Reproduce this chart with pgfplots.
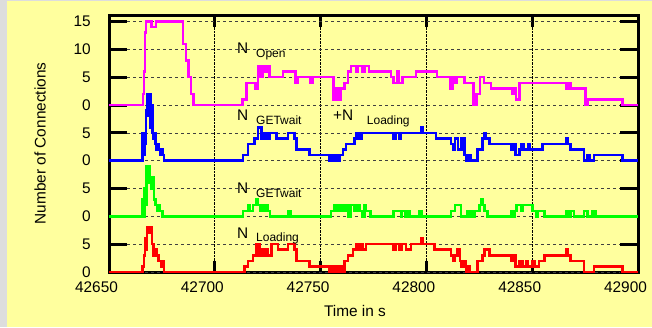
\documentclass[border=0pt]{standalone}
\usepackage{pgfplots}
\usepackage{pgfplotstable}
\pgfplotsset{compat=1.18}
\usepackage{fontspec}
\setmainfont{Liberation Sans}
\definecolor{bgyellow}{RGB}{255,255,158}
\definecolor{edgegrey}{RGB}{221,221,221}
\definecolor{cmag}{RGB}{255,0,255}
\definecolor{cblue}{RGB}{0,0,255}
\definecolor{cgreen}{RGB}{0,255,0}
\definecolor{cred}{RGB}{255,0,0}

\pgfplotstableread{
t v
42650 0
42666.0 2
42666.5 6
42667.0 13
42667.5 15
42670.0 14
42672.2 15
42685.0 11
42686.4 8
42687.5 5
42688.8 2
42690.0 0
42713.0 1
42715.0 4
42719.2 3
42720.4 7
42721.7 5
42722.8 7
42724.0 6
42724.8 7
42725.9 5
42732.2 6
42738.2 4
42739.0 5
42745.3 4
42746.1 5
42756.1 1
42757.4 3
42758.6 1
42759.7 3
42761.3 4
42762.9 6
42764.4 7
42766.8 6
42767.6 7
42769.9 6
42770.7 7
42772.8 6
42783.3 5
42784.5 4
42786.0 6
42787.0 4
42788.8 5
42795.1 6
42805.0 5
42811.3 3
42812.4 5
42813.2 4
42814.5 5
42817.9 4
42822.3 0
42823.6 2
42825.3 5
42827.3 4
42830.5 3
42840.7 2
42841.5 3
42842.3 1
42843.9 4
42865.9 3
42867.0 4
42868.0 3
42875.3 0
42876.1 1
42892.6 0
42900 0
}\tblopen

\pgfplotstableread{
t v
42650 0
42665.8 5
42666.3 1
42666.7 5
42667.2 3
42667.6 9
42668.0 12
42668.6 8
42669.0 12
42669.5 6
42670.0 10
42670.5 5
42671.0 4
42671.5 5
42672.0 3
42672.5 2
42673.0 3
42673.5 2
42674.0 1
42674.5 2
42675.2 1
42676.0 0
42713.3 1
42715.7 3
42718.8 4
42720.4 6
42722.0 4
42722.8 5
42723.6 4
42724.3 5
42725.2 4
42726.0 5
42729.1 4
42734.6 5
42737.7 4
42738.5 2
42744.8 1
42754.2 0
42755.0 1
42756.0 0
42757.0 1
42758.0 0
42759.0 1
42760.5 2
42762.1 3
42766.0 4
42767.0 5
42768.4 4
42769.3 5
42784.1 4
42785.5 5
42787.0 4
42788.0 5
42797.5 6
42798.2 5
42804.6 4
42811.6 3
42812.5 2
42813.5 4
42815.0 2
42816.5 4
42817.9 1
42819.0 0
42820.0 1
42821.0 0
42824.2 2
42826.6 4
42827.3 5
42828.1 4
42829.7 3
42839.9 2
42841.0 3
42842.0 1
42843.9 2
42845.0 3
42846.0 2
42848.0 3
42849.0 2
42854.9 3
42865.9 4
42867.0 3
42868.0 2
42874.5 0
42876.0 1
42877.0 0
42879.3 1
42892.6 0
42900 0
}\tblwaitA

\pgfplotstableread{
t v
42650 0
42665.8 3
42666.3 0
42666.8 5
42667.3 2
42667.7 9
42668.2 6
42668.7 9
42669.2 7
42670.0 5
42670.7 7
42671.3 3
42672.0 2
42673.0 1
42673.5 2
42674.2 1
42675.3 0
42713.3 1
42715.7 2
42716.5 1
42718.0 2
42719.5 3
42720.5 2
42721.3 1
42722.2 2
42723.4 1
42724.5 2
42725.2 1
42726.2 0
42734.5 1
42735.7 0
42755.0 1
42756.3 2
42757.5 1
42758.9 2
42760.0 1
42760.6 2
42761.6 1
42762.4 2
42763.3 0
42764.4 2
42766.0 1
42767.3 2
42768.4 1
42769.6 0
42770.7 2
42771.5 1
42773.5 0
42784.5 1
42788.0 0
42788.5 1
42790.0 0
42790.6 1
42792.0 0
42796.7 1
42797.8 0
42811.6 1
42813.5 2
42816.4 0
42819.5 1
42820.5 0
42821.3 1
42822.5 0
42823.0 1
42825.0 2
42825.8 3
42826.8 2
42827.4 1
42828.9 0
42839.9 1
42840.8 0
42841.6 1
42842.5 2
42844.7 1
42845.5 2
42850.2 1
42851.8 0
42852.6 1
42855.7 0
42865.9 1
42866.7 0
42868.2 1
42869.8 0
42874.5 1
42876.1 0
42878.5 1
42880.0 0
42900 0
}\tblwaitB

\pgfplotstableread{
t v
42650 0
42665.8 1
42666.5 3
42667.0 6
42667.5 4
42668.0 8
42669.0 7
42669.7 8
42670.3 5
42671.0 3
42672.0 4
42672.5 3
42673.5 2
42674.5 1
42675.5 2
42676.0 0
42714.1 1
42715.7 2
42718.1 3
42719.6 5
42721.2 3
42722.0 4
42723.0 3
42724.0 4
42725.0 3
42726.7 5
42729.9 4
42734.6 5
42737.7 4
42738.5 2
42744.8 1
42754.2 0
42755.0 1
42756.0 0
42757.0 1
42758.0 0
42759.5 1
42760.3 0
42761.3 2
42762.9 3
42765.2 4
42766.8 5
42768.0 4
42769.0 5
42769.9 4
42771.5 5
42784.1 4
42785.5 5
42787.2 4
42788.5 5
42790.4 4
42792.7 5
42797.5 6
42798.2 5
42803.8 4
42811.6 3
42812.5 2
42813.5 3
42814.8 4
42815.8 2
42816.5 1
42817.5 2
42818.7 0
42819.5 1
42820.5 0
42824.2 2
42826.6 3
42827.4 4
42829.7 3
42839.9 2
42841.0 3
42842.0 1
42843.9 2
42845.4 1
42847.0 2
42848.0 1
42850.0 2
42851.0 1
42853.3 2
42855.7 3
42865.9 4
42866.7 3
42868.0 2
42874.5 0
42879.3 1
42892.6 0
42900 0
}\tblload

\begin{document}
\begin{tikzpicture}
\fill[bgyellow] (0pt,0pt) rectangle (652pt,327pt);
\fill[edgegrey] (0pt,0pt) rectangle (7pt,327pt);
\fill[edgegrey] (0pt,326pt) rectangle (652pt,327pt);
\begin{axis}[
  at={(109pt,55pt)}, anchor=south west,
  scale only axis, width=529pt, height=256pt,
  xmin=42650, xmax=42900, ymin=0, ymax=46,
  clip=false,
  scaled x ticks=false, scaled y ticks=false,
  axis line style={line width=3pt, black},
  tick align=inside,
  tick style={line width=3pt, black},
  major tick length=11pt,
  xtick={42650,42700,42750,42800,42850,42900},
  xticklabels={42650,42700,42750,42800,42850,42900},
  xmajorgrids=true,
  x grid style={densely dotted, black, line width=0.8pt},
  xticklabel style={font=\fontsize{15.4}{16}\selectfont, inner sep=0pt, anchor=north, yshift=-10pt, xshift=-12.5pt},
  ytick=\empty,
  extra y ticks={0,5,10,15,20,25,30,35,40,45},
  extra y tick labels={0,5,0,5,0,5,0,5,10,15},
  extra y tick style={major tick length=18pt, ymajorgrids=true,
     major grid style={dashed, black!75, line width=0.7pt}},
  yticklabel style={font=\fontsize{15.4}{16}\selectfont, inner sep=0pt, anchor=east, xshift=-18pt},
  every axis plot/.append style={const plot, line width=2.5pt},
]
\addplot[cmag] table[x index=0, y expr=\thisrowno{1}+30] {\tblopen};
\addplot[cblue] table[x index=0, y expr=\thisrowno{1}+20] {\tblwaitA};
\addplot[cgreen] table[x index=0, y expr=\thisrowno{1}+10] {\tblwaitB};
\addplot[cred] table[x index=0, y expr=\thisrowno{1}] {\tblload};
\end{axis}
\begin{scope}[every node/.style={inner sep=0pt}]
\node[anchor=base west, font=\fontsize{15.4}{16}\selectfont] at (237pt,273.7pt) {N};
\node[anchor=base west, font=\fontsize{12}{13}\selectfont] at (256pt,269.1pt) {Open};
\node[anchor=base west, font=\fontsize{15.4}{16}\selectfont] at (237pt,207pt) {N};
\node[anchor=base west, font=\fontsize{12}{13}\selectfont] at (256pt,202.4pt) {GETwait};
\node[anchor=base west, font=\fontsize{15.4}{16}\selectfont] at (333pt,207pt) {+N};
\node[anchor=base west, font=\fontsize{12}{13}\selectfont] at (366.7pt,202.4pt) {Loading};
\node[anchor=base west, font=\fontsize{15.4}{16}\selectfont] at (237pt,133.7pt) {N};
\node[anchor=base west, font=\fontsize{12}{13}\selectfont] at (256pt,129.4pt) {GETwait};
\node[anchor=base west, font=\fontsize{15.4}{16}\selectfont] at (237pt,88.7pt) {N};
\node[anchor=base west, font=\fontsize{12}{13}\selectfont] at (256pt,85.4pt) {Loading};
\node[anchor=base, font=\fontsize{15.4}{16}\selectfont] at (355pt,10.3pt) {Time in s};
\node[rotate=90, font=\fontsize{15.4}{16}\selectfont] at (40pt,183.5pt) {Number of Connections};
\end{scope}
\pgfresetboundingbox
\useasboundingbox (0pt,0pt) rectangle (652pt,327pt);
\end{tikzpicture}
\end{document}
